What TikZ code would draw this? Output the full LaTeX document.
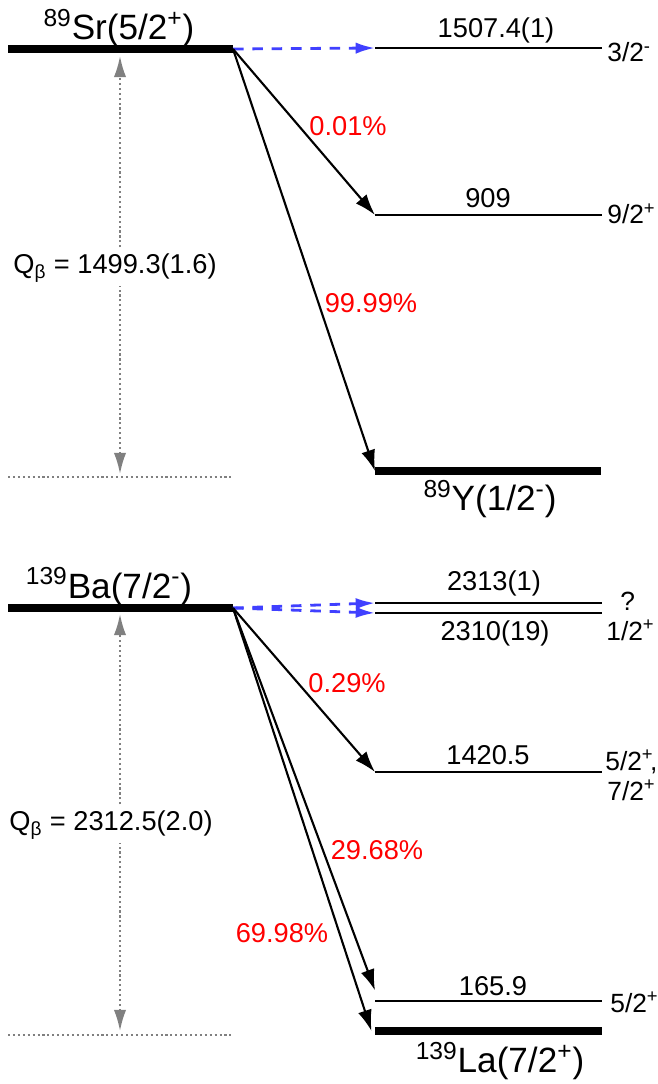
\documentclass[tikz,border=0pt]{standalone}
\usepackage{fontspec}
\setmainfont{Liberation Sans}
\usetikzlibrary{arrows.meta}
\tikzset{lvl/.style={line width=1.4pt},gs/.style={line width=4pt},
feed/.style={line width=1.2pt,-{Latex[length=12pt,width=8pt]}},
ec/.style={color=blue!75,dash pattern=on 6pt off 5pt,line width=1.6pt,-{Latex[length=11pt,width=6.5pt]}},
qline/.style={color=gray,dash pattern=on 1.2pt off 1.6pt,line width=1.2pt},
qarr/.style={qline,{Latex[length=12pt,width=7pt]}-{Latex[length=12pt,width=7pt]}},
pct/.style={color=red,font=\fontsize{15.5}{17}\selectfont},
lbl/.style={font=\fontsize{15.5}{17}\selectfont},
spin/.style={font=\fontsize{15}{17}\selectfont,anchor=base west,inner sep=0pt},
nuc/.style={font=\fontsize{20}{22}\selectfont}}

\begin{document}
\begin{tikzpicture}[x=0.02cm,y=-0.02cm]
\useasboundingbox (0,0) rectangle (658,1084);
% 89Sr
\coordinate (sra) at (8,49);\coordinate (srb) at (233,49);\draw[gs] (sra) to (srb);
\node[nuc,anchor=base] (srname) at (119,40) {\textsuperscript{89}Sr(5/2\textsuperscript{+})};
\coordinate (ya) at (375,48);\coordinate (yb) at (602,48);\draw[lvl] (ya) to (yb);
\coordinate (yc) at (375,215);\coordinate (yd) at (602,215);\draw[lvl] (yc) to (yd);
\coordinate (ye) at (375,471);\coordinate (yf) at (601,471);\draw[gs] (ye) to (yf);
\node[lbl] (ya-e) at (496,30) {1507.4(1)};\node[spin] (ya-j) at (607,62) {3/2\textsuperscript{-}};
\node[lbl] (yc-e) at (488,198) {909};\node[spin] (yc-j) at (607,224) {9/2\textsuperscript{+}};
\node[nuc] (yname) at (490,499) {\textsuperscript{89}Y(1/2\textsuperscript{-})};
\draw[ec] (srb) to (ya);
\draw[feed] (srb) to (yc);\node[pct] (p1) at (348,126) {0.01\%};
\draw[feed] (srb) to (ye);\node[pct] (p2) at (371,303) {99.99\%};
\coordinate (qa) at (120,56);\coordinate (qb) at (120,474);
\coordinate (qc) at (8,477);\coordinate (qd) at (233,477);
\draw[qarr] (qb) to (qa);\draw[qline] (qc) to (qd);
\node[lbl,fill=white,inner sep=2pt] (q1) at (115,268) {Q\textsubscript{β} = 1499.3(1.6)};

% 139Ba
\coordinate (baa) at (8,608);\coordinate (bab) at (233,608);\draw[gs] (baa) to (bab);
\node[nuc,anchor=base] (baname) at (109,598) {\textsuperscript{139}Ba(7/2\textsuperscript{-})};
\coordinate (la1) at (375,603);\coordinate (la2) at (602,603);\draw[lvl] (la1) to (la2);
\coordinate (lb1) at (375,613);\coordinate (lb2) at (602,613);\draw[lvl] (lb1) to (lb2);
\coordinate (lc1) at (375,772);\coordinate (lc2) at (602,772);\draw[lvl] (lc1) to (lc2);
\coordinate (ld1) at (375,1001);\coordinate (ld2) at (602,1001);\draw[lvl] (ld1) to (ld2);
\coordinate (le1) at (375,1031);\coordinate (le2) at (602,1031);\draw[gs] (le1) to (le2);
\node[lbl] (la-e) at (494,583) {2313(1)};\node[spin] (la-j) at (620,610) {?};
\node[lbl] (lb-e) at (495,633) {2310(19)};\node[spin] (lb-j) at (606,640) {1/2\textsuperscript{+}};
\node[lbl] (lc-e) at (488,755) {1420.5};\node[spin] (lc-j) at (605,770) {5/2\textsuperscript{+}\kern-2pt,};
\node[spin] (lc-k) at (607,800) {7/2\textsuperscript{+}};
\node[lbl] (ld-e) at (493,986) {165.9};\node[spin] (ld-j) at (610,1012) {5/2\textsuperscript{+}};
\node[nuc] (laname) at (500,1061) {\textsuperscript{139}La(7/2\textsuperscript{+})};
\draw[ec] (bab) to (la1);\draw[ec] (bab) to (lb1);
\draw[feed] (bab) to (lc1);\node[pct] (p3) at (347,683) {0.29\%};
\draw[feed] (bab) to ([yshift=6]ld1);\node[pct] (p4) at (377,850) {29.68\%};
\draw[feed] (bab) to ([xshift=-2]le1);\node[pct] (p5) at (282,933) {69.98\%};
\coordinate (qe) at (120,614);\coordinate (qf) at (120,1031);
\coordinate (qg) at (8,1035);\coordinate (qh) at (233,1035);
\draw[qarr] (qf) to (qe);\draw[qline] (qg) to (qh);
\node[lbl,fill=white,inner sep=2pt] (q2) at (111,825) {Q\textsubscript{β} = 2312.5(2.0)};
\end{tikzpicture}
\end{document}
